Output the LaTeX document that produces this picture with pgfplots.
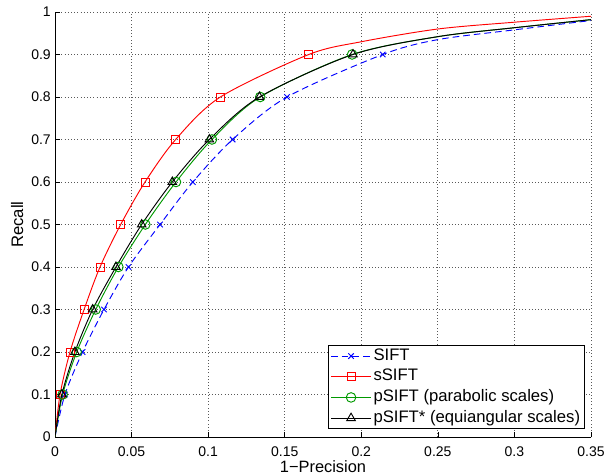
\documentclass[border=0pt]{standalone}
\usepackage{fontspec}
\setmainfont{Liberation Sans}
\usepackage{pgfplots}
\pgfplotsset{compat=1.18}
\definecolor{mgreen}{rgb}{0,0.6,0}
\begin{document}
\begin{tikzpicture}
\path[use as bounding box] (-41.25pt,-28.5pt) rectangle (414pt,327.75pt);
\begin{axis}[
  at={(0pt,0pt)}, anchor=south west,
  scale only axis,
  width=402pt, height=318.75pt,
  xmin=0, xmax=0.35, ymin=0, ymax=1,
  axis x line*=bottom, axis y line*=left,
  xtick={0,0.05,...,0.35},
  xticklabels={0,0.05,0.1,0.15,0.2,0.25,0.3,0.35},
  ytick={0,0.1,...,1},
  yticklabels={0,0.1,0.2,0.3,0.4,0.5,0.6,0.7,0.8,0.9,1},
  /pgf/number format/assume math mode=true,
  tick align=inside,
  major tick length=3.75pt,
  tick style={black, line width=0.5pt},
  grid=major,
  major grid style={black!65, dotted, line width=0.55pt},
  axis line style={line width=0.55pt},
  xlabel={1−Precision},
  ylabel={Recall},
  xlabel style={at={(axis description cs:0.5,-0.0847)}, anchor=base, font=\fontsize{12.3}{14}\selectfont},
  ylabel style={at={(axis description cs:-0.0597,0.5)}, anchor=base, font=\fontsize{12.5}{14}\selectfont},
  xticklabel style={anchor=base, yshift=-14.25pt, inner sep=0pt, font=\fontsize{10.5}{12}\selectfont},
  yticklabel style={anchor=east, xshift=-3pt, inner sep=0pt, font=\fontsize{10.5}{12}\selectfont},
  legend style={at={(rel axis cs:1,0)}, anchor=south east, xshift=-4.5pt, yshift=6pt,
    font=\fontsize{12.5}{14}\selectfont,
    draw=black, line width=0.55pt, fill=white, inner xsep=1.9pt, inner ysep=1.9pt, row sep=3.5pt,
    nodes={inner xsep=1.5pt, inner ysep=0pt, text height=9pt, text depth=3pt},
    cells={anchor=west}},
  legend image code/.code={
    \draw[mark=none] (0pt,0pt) -- (30pt,0pt);
    \draw[mark indices={}] plot[sharp plot] coordinates {(15pt,0pt)};},
  every axis plot/.append style={line width=0.7pt},
]
\addplot[blue, dash pattern=on 5pt off 3pt, smooth, mark=x, mark size=2.9pt, mark indices={2,...,10}, mark options={solid}] coordinates {
 (0,0) (0.0065,0.1) (0.018,0.2) (0.032,0.3) (0.048,0.4) (0.0686,0.5) (0.090,0.6) (0.116,0.7) (0.1515,0.8) (0.214,0.9)
 (0.25,0.935) (0.3,0.958) (0.35,0.98)};
\addlegendentry{SIFT}
\addplot[red, smooth, mark=square, mark size=3pt, mark indices={2,...,10}] coordinates {
 (0,0) (0.0033,0.1) (0.0098,0.2) (0.019,0.3) (0.0294,0.4) (0.0429,0.5) (0.0588,0.6) (0.0788,0.7) (0.108,0.8) (0.1657,0.9)
 (0.2,0.93) (0.25,0.96) (0.3,0.976) (0.35,0.99)};
\addlegendentry{sSIFT}
\addplot[mgreen, smooth, mark=o, mark size=3.6pt, mark indices={2,...,10}] coordinates {
 (0,0) (0.005,0.1) (0.0142,0.2) (0.0266,0.3) (0.0414,0.4) (0.059,0.5) (0.079,0.6) (0.1025,0.7) (0.134,0.8) (0.194,0.9)
 (0.25,0.942) (0.3,0.963) (0.35,0.982)};
\addlegendentry{pSIFT (parabolic scales)}
\addplot[black, smooth, mark=triangle, mark size=3.7pt, mark indices={2,...,10}] coordinates {
 (0,0) (0.0045,0.1) (0.013,0.2) (0.0246,0.3) (0.0398,0.4) (0.0566,0.5) (0.0766,0.6) (0.1008,0.7) (0.1335,0.8) (0.1946,0.9)
 (0.25,0.942) (0.3,0.963) (0.35,0.982)};
\addlegendentry{pSIFT* (equiangular scales)}
\end{axis}
\end{tikzpicture}
\end{document}
